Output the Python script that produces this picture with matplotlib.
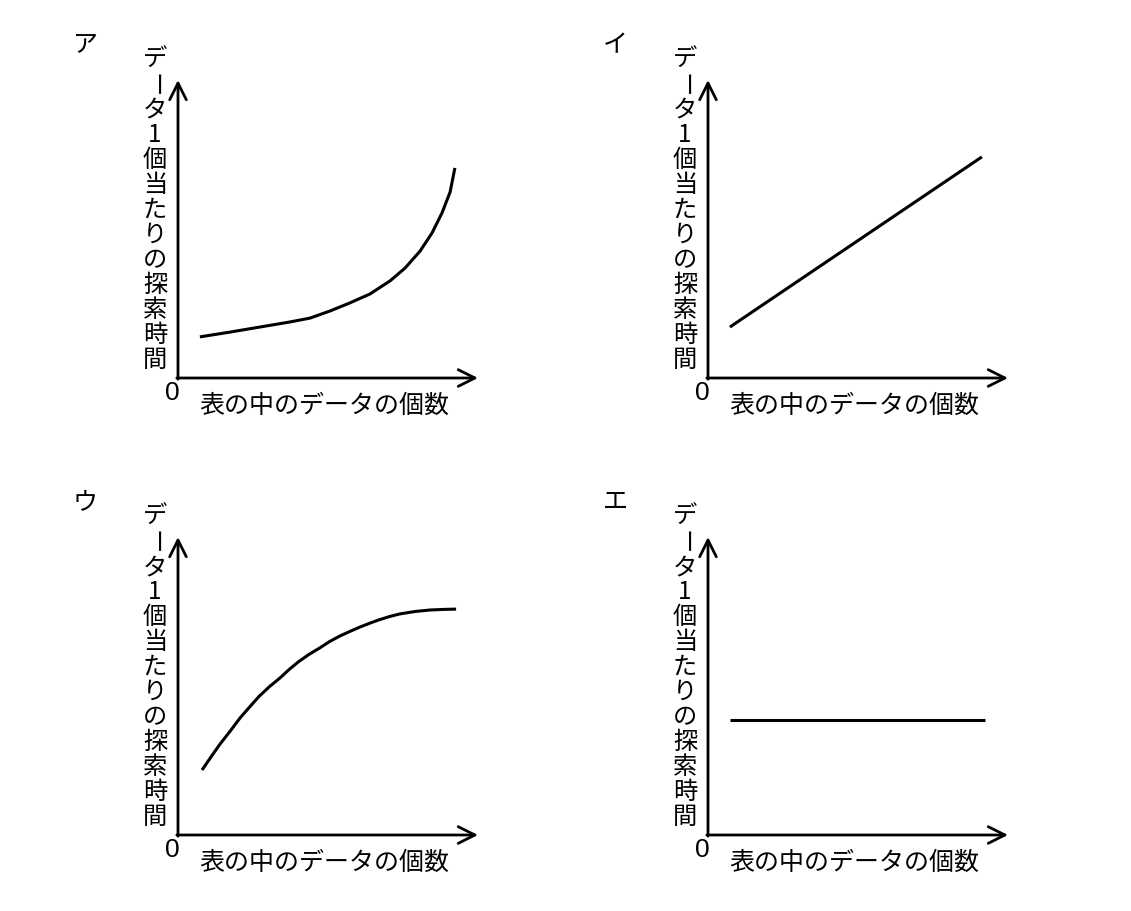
import numpy as np
import matplotlib.pyplot as plt

plt.rcParams['font.family'] = ['Noto Sans CJK JP', 'DejaVu Sans']

# panel letters
panel_names = ['ア', 'イ', 'ウ', 'エ']
y_label = 'データ1個当たりの探索時間'
x_label = '表の中のデータの個数'

# curves (x: 0-10, y: 0-10)
a_x = [0.73, 1.73, 2.73, 3.73, 4.4, 5.07, 5.73, 6.4, 7.07, 7.57, 8.07,
       8.47, 8.8, 9.07, 9.23]
a_y = [1.38, 1.54, 1.71, 1.88, 2.01, 2.25, 2.52, 2.82, 3.26, 3.69, 4.26,
       4.87, 5.54, 6.24, 7.05]

i_x = [0.73, 9.13]
i_y = [1.71, 7.42]

u_x = [0.8, 1.1, 1.4, 1.75, 2.07, 2.4, 2.7, 3.05, 3.4, 3.7, 4.0, 4.35,
       4.73, 5.05, 5.4, 5.75, 6.07, 6.4, 6.7, 7.05, 7.4, 7.9, 8.4, 8.85, 9.27]
u_y = [2.18, 2.62, 3.05, 3.5, 3.93, 4.31, 4.65, 4.98, 5.27, 5.55, 5.8, 6.05,
       6.28, 6.49, 6.68, 6.84, 6.98, 7.11, 7.22, 7.33, 7.42, 7.5, 7.55,
       7.57, 7.58]

e_x = [0.73, 9.23]
e_y = [3.86, 3.86]

curves = [(a_x, a_y), (i_x, i_y), (u_x, u_y), (e_x, e_y)]

W, H = 1131, 911
fig = plt.figure(figsize=(W / 100, H / 100), dpi=100)

origins = [(178, 378), (708, 378), (178, 835), (708, 835)]
ax_w, ax_h = 300, 298
sx, sy = ax_w / 10, ax_h / 10

for (ox, oy), name, (cx, cy) in zip(origins, panel_names, curves):
    ax = fig.add_axes([ox / W, (H - oy) / H, ax_w / W, ax_h / H])
    ax.set_xlim(0, 10)
    ax.set_ylim(0, 10)
    ax.axis('off')

    # axes with arrows
    ax.annotate('', xy=(10, 0), xytext=(-0.04, 0),
                arrowprops=dict(arrowstyle='->', lw=2, color='black',
                                mutation_scale=30, shrinkA=0, shrinkB=0),
                annotation_clip=False)
    ax.annotate('', xy=(0, 10), xytext=(0, -0.04),
                arrowprops=dict(arrowstyle='->', lw=2, color='black',
                                mutation_scale=30, shrinkA=0, shrinkB=0),
                annotation_clip=False)

    ax.plot(cx, cy, color='black', lw=2.2, solid_capstyle='butt',
            solid_joinstyle='round', clip_on=False)

    # vertical y label, one character at a time
    for k, ch in enumerate(y_label):
        ty = (318 - 25 * k) / sy
        ax.text(-23 / sx, ty, ch, fontsize=17.5, ha='center', va='center',
                rotation=-90 if ch == 'ー' else 0, clip_on=False)

    ax.text(-6 / sx, -15 / sy, '0', fontsize=19, ha='center', va='center',
            family='Liberation Sans', clip_on=False)
    ax.text(146 / sx, -28 / sy, x_label, fontsize=18, ha='center',
            va='center', clip_on=False)
    ax.text(-93 / sx, 333 / sy, name, fontsize=18, ha='center',
            va='center', clip_on=False)

fig.savefig('out.png', dpi=100)
